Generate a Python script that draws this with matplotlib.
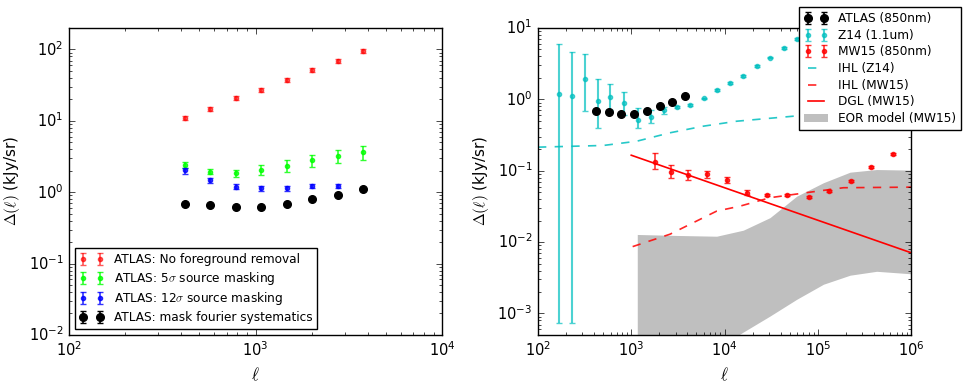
# -*- coding: utf-8 -*-
# ATLAS fluctuation amplitude plots

import numpy as np
import matplotlib
matplotlib.use('Agg')
import matplotlib.pyplot as plt
import matplotlib.patches as patches

# ---- data ----
ell_atlas = [417, 573, 783, 1069, 1469, 2018, 2760, 3767]
atlas_nofg = [11.0, 14.6, 20.9, 27.0, 37.4, 51.3, 69.4, 94.8]
atlas_nofg_frac = [0.07, 0.07, 0.07, 0.07, 0.07, 0.07, 0.07, 0.07]
atlas_5sig = [2.43, 1.95, 1.85, 2.07, 2.35, 2.79, 3.26, 3.66]
atlas_5sig_frac = [0.095, 0.09, 0.11, 0.15, 0.19, 0.20, 0.21, 0.22]
ell_atlas12 = [417, 573, 783, 1069, 1469, 2018, 2760]
atlas_12sig = [2.02, 1.46, 1.20, 1.13, 1.14, 1.22, 1.22]
atlas_12sig_frac = [0.095, 0.08, 0.075, 0.075, 0.075, 0.075, 0.075]
atlas_mask = [0.678, 0.664, 0.622, 0.622, 0.687, 0.797, 0.918, 1.12]
atlas_mask_frac = [0.01, 0.01, 0.01, 0.01, 0.01, 0.01, 0.01, 0.01]

ell_z14 = [168, 232, 319, 436, 592, 835, 1181, 1629, 2244, 3118, 4298,
           5979, 8375, 11540, 15900, 22500, 30800, 43500, 59400, 82000]
z14 = [1.17, 1.11, 1.95, 0.94, 1.08, 0.89, 0.52, 0.568, 0.70, 0.78, 0.83,
       1.03, 1.37, 1.70, 2.15, 2.94, 3.85, 5.19, 7.08, 9.4]
z14_lo = [7.4e-4, 7.4e-4, 0.682, 0.399, 0.705, 0.612, 0.391, 0.459, 0.627,
          0.755, 0.805, 1.0, 1.33, 1.65, 2.09, 2.86, 3.74, 5.04, 6.88, 9.1]
z14_hi = [5.97, 4.61, 4.33, 1.91, 1.63, 1.27, 0.752, 0.72, 0.785, 0.805,
          0.855, 1.06, 1.41, 1.75, 2.21, 3.02, 3.96, 5.34, 7.28, 9.7]

ell_mw15 = [1798, 2668, 4093, 6446, 10550, 17300, 28400, 47200, 80000,
            132000, 227000, 370000, 637000]
mw15 = [0.132, 0.0955, 0.086, 0.089, 0.074, 0.0492, 0.0451, 0.0456, 0.0428,
        0.0513, 0.0716, 0.1137, 0.1706]
mw15_lo = [0.107, 0.0798, 0.073, 0.0798, 0.0679, 0.0455, 0.0436, 0.0441,
           0.0414, 0.0496, 0.0692, 0.11, 0.165]
mw15_hi = [0.179, 0.1197, 0.102, 0.0977, 0.0813, 0.053, 0.0466, 0.0471,
           0.0442, 0.053, 0.074, 0.1175, 0.1765]

ell_ihl_z14 = [100, 503, 1143, 2600, 5930, 13500, 54700, 200000, 1000000]
ihl_z14 = [0.214, 0.226, 0.259, 0.340, 0.421, 0.494, 0.581, 0.63, 0.66]

ell_ihl_mw15 = [1035, 2600, 8240, 14650, 30700, 89600, 188000, 1000000]
ihl_mw15 = [0.00865, 0.0129, 0.0272, 0.0319, 0.0419, 0.0508, 0.0578, 0.0589]

ell_dgl = [1000, 1000000]
dgl = [0.165, 0.0071]

ell_eor = [1160, 3070, 8240, 15900, 30700, 59400, 115000, 222000, 428000, 1000000]
eor_hi = [0.0128, 0.0124, 0.0121, 0.0147, 0.022, 0.044, 0.068, 0.0955, 0.104, 0.102]
eor_lo = [6.6e-5, 1.5e-4, 3.2e-4, 5.5e-4, 9.2e-4, 1.58e-3, 2.57e-3, 3.44e-3, 3.9e-3, 3.6e-3]

plt.style.use('classic')
plt.rcParams['figure.facecolor'] = 'white'
plt.rcParams['savefig.facecolor'] = 'white'
plt.rcParams['xtick.labelsize'] = 10.5
plt.rcParams['ytick.labelsize'] = 10.5


def errs(vals, frac):
    v = np.array(vals)
    return v * np.array(frac)


fig = plt.figure(figsize=(9.69, 3.87), dpi=100)
ax1 = fig.add_axes([0.0712, 0.1344, 0.385, 0.7933])
ax2 = fig.add_axes([0.5552, 0.1344, 0.385, 0.7933])

# ---- left panel ----
kw = dict(capsize=2.3, elinewidth=1.2, markeredgewidth=1.0)
h1 = ax1.errorbar(ell_atlas, atlas_nofg, yerr=errs(atlas_nofg, atlas_nofg_frac),
                  fmt='.', color='r', mec='r', alpha=0.65, ms=6, **kw)
h2 = ax1.errorbar(ell_atlas, atlas_5sig, yerr=errs(atlas_5sig, atlas_5sig_frac),
                  fmt='.', color='lime', mec='lime', alpha=0.8, ms=6, **kw)
h3 = ax1.errorbar(ell_atlas12, atlas_12sig, yerr=errs(atlas_12sig, atlas_12sig_frac),
                  fmt='.', color='b', mec='b', alpha=0.8, ms=6, **kw)
h4 = ax1.errorbar(ell_atlas, atlas_mask, yerr=errs(atlas_mask, atlas_mask_frac),
                  fmt='o', color='k', mec='k', ms=5.5, **kw)
ax1.set_xscale('log')
ax1.set_yscale('log')
ax1.set_xlim(1e2, 1e4)
ax1.set_ylim(1e-2, 2e2)
ax1.set_xlabel(r'$\ell$', fontsize=12)
ax1.set_ylabel(r'$\Delta(\ell)$ (kJy/sr)', fontsize=11)
ax1.legend([h1, h2, h3, h4],
           ['ATLAS: No foreground removal', r'ATLAS: 5$\sigma$ source masking',
            r'ATLAS: 12$\sigma$ source masking', 'ATLAS: mask fourier systematics'],
           loc='lower left', fontsize=8.7, numpoints=2, labelspacing=0.3)

# ---- right panel ----
z14 = np.array(z14)
mw15 = np.array(mw15)
ax2.fill_between(ell_eor, eor_lo, eor_hi, color='gray', alpha=0.5, lw=0)
l1, = ax2.plot(ell_ihl_z14, ihl_z14, '--', color='c', alpha=0.85, lw=1.2)
l2, = ax2.plot(ell_ihl_mw15, ihl_mw15, '--', color='r', alpha=0.85, lw=1.2)
l3, = ax2.plot(ell_dgl, dgl, '-', color='r', lw=1.2)
e2 = ax2.errorbar(ell_z14, z14, yerr=[z14 - np.array(z14_lo), np.array(z14_hi) - z14],
                  fmt='.', color='c', mec='c', alpha=0.7, ms=6, capsize=2.3,
                  elinewidth=1.5, markeredgewidth=1.0)
e3 = ax2.errorbar(ell_mw15, mw15, yerr=[mw15 - np.array(mw15_lo), np.array(mw15_hi) - mw15],
                  fmt='.', color='r', mec='r', alpha=0.8, ms=6, **kw)
e1 = ax2.errorbar(ell_atlas, atlas_mask, yerr=errs(atlas_mask, atlas_mask_frac),
                  fmt='o', color='k', mec='k', ms=5.5, **kw)
p = patches.Patch(color='gray', alpha=0.5, lw=0)
ax2.set_xscale('log')
ax2.set_yscale('log')
ax2.set_xlim(1e2, 1e6)
ax2.set_ylim(5e-4, 1e1)
ax2.set_xlabel(r'$\ell$', fontsize=12)
ax2.set_ylabel(r'$\Delta(\ell)$ (kJy/sr)', fontsize=11)
ax2.legend([e1, e2, e3, l1, l2, l3, p],
           ['ATLAS (850nm)', 'Z14 (1.1um)', 'MW15 (850nm)', 'IHL (Z14)',
            'IHL (MW15)', 'DGL (MW15)', 'EOR model (MW15)'],
           loc='upper right', bbox_to_anchor=(1.133, 1.067), borderaxespad=0,
           fontsize=8.7, numpoints=2, labelspacing=0.3)

fig.savefig('out.png', dpi=100)
